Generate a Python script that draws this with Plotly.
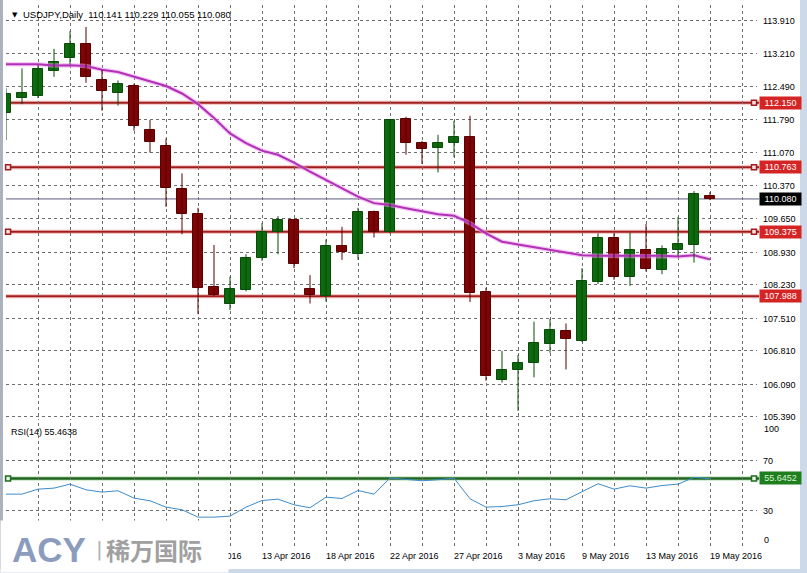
import plotly.graph_objects as go

# ---------------- data ----------------
bar_idx = list(range(45))
opens = [111.92, 112.26, 112.30, 112.84, 113.12, 113.41, 112.64, 112.37, 112.52, 111.56,
         111.23, 110.29, 109.76, 108.18, 107.83, 108.12, 108.82, 109.36, 109.63, 108.14,
         108.00, 109.07, 108.90, 109.79, 109.36, 111.80, 111.29, 111.18, 111.29, 111.41,
         108.07, 106.18, 106.39, 106.55, 106.96, 107.24, 107.03, 108.29, 109.25, 108.39,
         108.98, 108.55, 108.98, 109.09, 110.141]
highs = [112.46, 112.89, 112.96, 113.31, 113.69, 113.78, 112.86, 112.63, 112.56, 111.78,
         111.38, 110.63, 109.89, 109.09, 108.41, 108.89, 109.56, 109.71, 109.65, 108.44,
         109.21, 109.48, 109.89, 109.83, 111.80, 111.85, 111.33, 111.46, 111.76, 111.87,
         108.17, 106.81, 106.72, 107.44, 107.50, 107.40, 108.59, 109.34, 109.34, 109.36,
         109.54, 109.08, 109.69, 110.25, 110.229]
lows = [111.35, 112.12, 112.25, 112.71, 112.98, 112.58, 111.98, 112.09, 111.55, 111.08,
        109.91, 109.32, 107.60, 107.99, 107.69, 108.09, 108.75, 108.89, 108.59, 107.83,
        107.87, 108.77, 108.77, 109.25, 109.34, 111.03, 110.83, 110.65, 110.98, 107.86,
        106.17, 106.13, 105.52, 106.24, 106.77, 106.41, 107.00, 108.25, 108.34, 108.21,
        108.52, 108.46, 108.85, 108.71, 110.055]
closes = [112.33, 112.36, 112.88, 113.03, 113.42, 112.71, 112.41, 112.55, 111.66, 111.30,
          110.31, 109.76, 108.17, 108.01, 108.14, 108.82, 109.36, 109.63, 108.69, 108.01,
          109.07, 108.93, 109.80, 109.36, 111.77, 111.28, 111.16, 111.28, 111.41, 108.06,
          106.27, 106.40, 106.56, 106.98, 107.25, 107.07, 108.32, 109.25, 108.41, 108.98,
          108.57, 109.00, 109.12, 110.18, 110.080]
ma_values = [112.98, 112.98, 112.98, 112.95, 112.96, 112.94, 112.86, 112.81, 112.71, 112.62,
             112.51, 112.35, 112.12, 111.82, 111.49, 111.28, 111.12, 111.03, 110.86, 110.67,
             110.49, 110.31, 110.13, 109.99, 109.95, 109.88, 109.81, 109.75, 109.72, 109.56,
             109.34, 109.16, 109.10, 109.04, 108.98, 108.92, 108.87, 108.86, 108.86, 108.86,
             108.86, 108.86, 108.84, 108.87, 108.78]
rsi_values = [43.1, 43.1, 47.1, 47.9, 51.1, 46.6, 44.7, 45.8, 39.9, 37.8,
              32.7, 30.6, 24.7, 24.7, 25.5, 32.7, 38.0, 39.1, 34.6, 32.2,
              40.7, 39.6, 46.0, 43.1, 56.0, 55.1, 53.8, 54.6, 55.9, 39.4,
              32.7, 33.2, 34.6, 37.8, 39.4, 38.6, 45.2, 51.4, 47.1, 49.8,
              47.9, 50.0, 51.1, 56.5, 55.46]
price_ticks = [113.910, 113.210, 112.490, 111.790, 111.070, 110.370, 109.650,
               108.930, 108.230, 107.510, 106.810, 106.090, 105.390]
rsi_ticks = [0, 30, 70]
rsi_tick_text = ["", "30", "70"]
level_prices = [112.150, 110.763, 109.375, 107.988]
level_left_marker = [False, True, True, False]
level_right_marker = [True, True, True, False]
last_price = 110.080
rsi_level = 55.6452
rsi_current = 55.4638
date_idx = [12, 16, 20, 24, 28, 32, 36, 40, 44]
date_text = ["8 Apr 2016", "13 Apr 2016", "18 Apr 2016", "22 Apr 2016", "27 Apr 2016",
             "3 May 2016", "9 May 2016", "13 May 2016", "19 May 2016"]
header_text = "USDJPY,Daily  110.141 110.229 110.055 110.080"

# ---------------- geometry helpers (pixels -> paper) ----------------
W, H = 807, 573
ML, MR, MT, MB = 6, 50, 5, 25
PW = W - ML - MR          # 751
PH = H - MT - MB          # 543
def px(xp):
    return (xp - ML) / PW
def py(yp):
    return (H - MB - yp) / PH

FONT = "Liberation Sans"
GREEN = "#0c6a0c"
GREEN_LINE = "#0a4a0a"
RED = "#7c0404"
RED_LINE = "#5a0000"
GRID = "#6e6e6e"

fig = go.Figure()

# moving average (halo + core)
fig.add_trace(go.Scatter(x=bar_idx, y=ma_values, mode="lines",
                         line=dict(color="rgba(235,160,235,0.55)", width=4.5),
                         hoverinfo="skip", showlegend=False, xaxis="x", yaxis="y"))
fig.add_trace(go.Scatter(x=bar_idx, y=ma_values, mode="lines",
                         line=dict(color="#b22fb8", width=2),
                         showlegend=False, xaxis="x", yaxis="y"))

# wicks
gx, gy, rx, ry = [], [], [], []
for i, o, h, l, c in zip(bar_idx, opens, highs, lows, closes):
    if c >= o:
        gx += [i, i, None]; gy += [l, h, None]
    else:
        rx += [i, i, None]; ry += [l, h, None]
fig.add_trace(go.Scatter(x=gx, y=gy, mode="lines", line=dict(color=GREEN_LINE, width=1),
                         showlegend=False, hoverinfo="skip", xaxis="x", yaxis="y"))
fig.add_trace(go.Scatter(x=rx, y=ry, mode="lines", line=dict(color=RED_LINE, width=1),
                         showlegend=False, hoverinfo="skip", xaxis="x", yaxis="y"))

# bodies
body_base = [min(o, c) for o, c in zip(opens, closes)]
body_len = [abs(c - o) for o, c in zip(opens, closes)]
body_col = [GREEN if c >= o else RED for o, c in zip(opens, closes)]
body_edge = [GREEN_LINE if c >= o else RED_LINE for o, c in zip(opens, closes)]
fig.add_trace(go.Bar(x=bar_idx, y=body_len, base=body_base, width=0.64,
                     marker=dict(color=body_col, line=dict(color=body_edge, width=1)),
                     showlegend=False, xaxis="x", yaxis="y"))

# level-line end markers
mk_x, mk_y = [], []
for p, lm, rm in zip(level_prices, level_left_marker, level_right_marker):
    if lm:
        mk_x.append(0.13); mk_y.append(p)
    if rm:
        mk_x.append(46.75); mk_y.append(p)
fig.add_trace(go.Scatter(x=mk_x, y=mk_y, mode="markers", cliponaxis=False,
                         marker=dict(symbol="square", size=5, color="#fbe3e3",
                                     line=dict(color="#a01c1c", width=1.5)),
                         showlegend=False, xaxis="x", yaxis="y"))

# RSI
fig.add_trace(go.Scatter(x=bar_idx, y=rsi_values, mode="lines",
                         line=dict(color="#3d8ccc", width=1),
                         showlegend=False, xaxis="x2", yaxis="y2"))
fig.add_trace(go.Scatter(x=[0.13, 46.75], y=[rsi_level, rsi_level], mode="markers",
                         cliponaxis=False,
                         marker=dict(symbol="square", size=5, color="#e3f5e3",
                                     line=dict(color="#1f6a1f", width=1.5)),
                         showlegend=False, xaxis="x2", yaxis="y2"))

shapes = []
for p in level_prices:
    shapes.append(dict(type="line", xref="paper", yref="y", x0=0, x1=px(759), y0=p, y1=p,
                       line=dict(color="rgba(235,140,140,0.45)", width=4.5), layer="between"))
    shapes.append(dict(type="line", xref="paper", yref="y", x0=0, x1=px(759), y0=p, y1=p,
                       line=dict(color="#a11d1d", width=2), layer="between"))
shapes.append(dict(type="line", xref="paper", yref="y", x0=0, x1=px(759),
                   y0=last_price, y1=last_price,
                   line=dict(color="#5c5c80", width=1), layer="between"))
shapes.append(dict(type="line", xref="paper", yref="y2", x0=0, x1=px(759),
                   y0=rsi_level, y1=rsi_level,
                   line=dict(color="rgba(140,210,140,0.5)", width=4.5), layer="between"))
shapes.append(dict(type="line", xref="paper", yref="y2", x0=0, x1=px(759),
                   y0=rsi_level, y1=rsi_level,
                   line=dict(color="#1f641f", width=2.5), layer="between"))
# window frame
shapes.append(dict(type="rect", xref="paper", yref="paper", x0=px(800), x1=px(812),
                   y0=py(580), y1=py(-5), fillcolor="#cbd9e8", line=dict(width=0), layer="above"))
shapes.append(dict(type="rect", xref="paper", yref="paper", x0=px(-5), x1=px(812),
                   y0=py(580), y1=py(569), fillcolor="#cbd9e8", line=dict(width=0), layer="above"))
shapes.append(dict(type="rect", xref="paper", yref="paper", x0=px(-2), x1=px(3),
                   y0=py(569), y1=py(-5), fillcolor="#aab2bd", line=dict(width=0), layer="above"))

ann = []
def label_box(text, yval, yref, bg, fg):
    ann.append(dict(text=text, xref="paper", yref=yref, x=px(759), y=yval,
                    xanchor="left", yanchor="middle", showarrow=False,
                    bgcolor=bg, width=39, height=10, borderpad=1, align="center",
                    font=dict(family=FONT, size=9, color=fg)))
for p in level_prices:
    label_box(f"{p:.3f}", p, "y", "#d42424", "#ffffff")
label_box(f"{last_price:.3f}", last_price, "y", "#000000", "#ffffff")
label_box(f"{rsi_level:.4f}", rsi_level, "y2", "#1f7f1f", "#d6f5d6")

# RSI scale end labels
ann.append(dict(text="100", xref="paper", yref="paper", x=px(762), y=py(429),
                xanchor="left", yanchor="middle", showarrow=False,
                font=dict(family=FONT, size=9, color="#000")))
ann.append(dict(text="0", xref="paper", yref="paper", x=px(762), y=py(540),
                xanchor="left", yanchor="middle", showarrow=False,
                font=dict(family=FONT, size=9, color="#000")))

# header and indicator label
ann.append(dict(text="▼", xref="paper", yref="paper", x=px(10), y=py(15),
                xanchor="left", yanchor="middle", showarrow=False,
                font=dict(family="DejaVu Sans", size=7, color="#000")))
ann.append(dict(text=header_text.replace("  ", "&nbsp; "), xref="paper", yref="paper",
                x=px(21), y=py(15), xanchor="left", yanchor="middle", showarrow=False,
                font=dict(family=FONT, size=9.5, color="#000")))
ann.append(dict(text=f"RSI(14) {rsi_current:.4f}", xref="paper", yref="paper",
                x=px(9), y=py(432), xanchor="left", yanchor="middle", showarrow=False,
                font=dict(family=FONT, size=9, color="#000")))

# date labels
for i, t in zip(date_idx, date_text):
    ann.append(dict(text=t, xref="x2", yref="paper", x=i, y=py(556), xanchor="left",
                    yanchor="middle", xshift=-2, showarrow=False,
                    font=dict(family=FONT, size=9, color="#000")))

# watermark box and logo
ann.append(dict(text=" ", xref="paper", yref="paper", x=px(0), y=py(573),
                xanchor="left", yanchor="bottom", width=227, height=51, borderpad=0,
                bgcolor="#ffffff", showarrow=False, font=dict(size=9)))
ann.append(dict(text="<b>ACY</b>", xref="paper", yref="paper", x=px(10), y=py(549),
                xanchor="left", yanchor="middle", showarrow=False,
                font=dict(family=FONT, size=35, color="#8c9cbe")))
ann.append(dict(text="|", xref="paper", yref="paper", x=px(94), y=py(549),
                xanchor="left", yanchor="middle", showarrow=False,
                font=dict(family="DejaVu Sans", size=20, color="#b0b0b0")))
ann.append(dict(text="<b>稀万国际</b>", xref="paper", yref="paper", x=px(104), y=py(549),
                xanchor="left", yanchor="middle", showarrow=False,
                font=dict(family="Noto Sans CJK SC", size=24, color="#a0a0a0")))

x_range = [0, PW / 16.0]
xcommon = dict(range=x_range, showgrid=True, gridcolor=GRID, griddash="3px,3px",
               gridwidth=1, dtick=2, tick0=0, showticklabels=False, zeroline=False,
               showline=False, ticks="", fixedrange=True, domain=[0, 1])

fig.update_layout(
    width=W, height=H,
    margin=dict(l=ML, r=MR, t=MT, b=MB),
    paper_bgcolor="#ffffff", plot_bgcolor="#ffffff",
    showlegend=False, barmode="overlay", bargap=0,
    xaxis=dict(anchor="y", **xcommon),
    xaxis2=dict(anchor="y2", matches="x", **xcommon),
    yaxis=dict(domain=[py(420), 1], range=[105.323, 114.254], side="right",
               tickvals=price_ticks, ticktext=[f"{v:.3f}" for v in price_ticks],
               showgrid=True, gridcolor=GRID, griddash="3px,3px", gridwidth=1,
               zeroline=False, showline=False, ticks="", ticklabelstandoff=5,
               tickfont=dict(family=FONT, size=9, color="#000"), fixedrange=True),
    yaxis2=dict(domain=[0, py(423)], range=[0, 100], side="right",
                tickvals=rsi_ticks, ticktext=rsi_tick_text,
                showgrid=True, gridcolor=GRID, griddash="3px,3px", gridwidth=1,
                zeroline=False, showline=False, ticks="", ticklabelstandoff=5,
                tickfont=dict(family=FONT, size=9, color="#000"), fixedrange=True),
    shapes=shapes, annotations=ann,
)

fig.write_html(
    "out.html",
    config={"displayModeBar": False},
    post_script="document.body.style.margin='0';document.body.style.padding='0';"
                "document.documentElement.style.overflow='hidden';",
)
